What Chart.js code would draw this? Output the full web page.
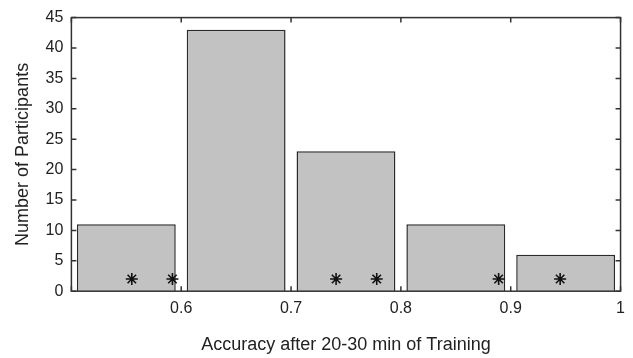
<!DOCTYPE html>
<html>
<head>
<meta charset="utf-8">
<script src="https://cdn.jsdelivr.net/npm/chart.js@4"></script>
<style>
  html, body { margin: 0; padding: 0; background: #fff; }
  #wrap { width: 633px; height: 358px; }
</style>
</head>
<body>
<div id="wrap"><canvas id="histChart"></canvas></div>
<script>
// histogram bins (centre of each 0.1-wide accuracy bin) and counts
const binCenters = [0.55, 0.65, 0.75, 0.85, 0.95];
const participantCounts = [11, 43, 23, 11, 6];

// individual participants marked with an asterisk
const starAccuracy = [0.555, 0.592, 0.741, 0.778, 0.889, 0.945];
const starLevel = [2, 2, 2, 2, 2, 2];

const xTickValues = [0.5, 0.6, 0.7, 0.8, 0.9, 1];
const yTickValues = [0, 5, 10, 15, 20, 25, 30, 35, 40, 45];

const fontFamily = '"Liberation Sans", Arial, Helvetica, sans-serif';

// frame around the plot area plus inward tick marks on all four sides
const frameTicks = {
  id: 'frameTicks',
  afterDraw(chart) {
    const { ctx, chartArea: a, scales } = chart;
    const len = 5;
    ctx.save();
    ctx.strokeStyle = '#333';
    ctx.lineWidth = 1.5;
    ctx.strokeRect(a.left, a.top, a.right - a.left, a.bottom - a.top);
    ctx.beginPath();
    xTickValues.forEach(v => {
      const px = scales.x.getPixelForValue(v);
      ctx.moveTo(px, a.bottom); ctx.lineTo(px, a.bottom - len);
      ctx.moveTo(px, a.top); ctx.lineTo(px, a.top + len);
    });
    yTickValues.forEach(v => {
      const py = scales.y.getPixelForValue(v);
      ctx.moveTo(a.left, py); ctx.lineTo(a.left + len, py);
      ctx.moveTo(a.right, py); ctx.lineTo(a.right - len, py);
    });
    ctx.stroke();
    ctx.restore();
  }
};

new Chart(document.getElementById('histChart'), {
  type: 'bar',
  data: {
    datasets: [
      {
        type: 'scatter',
        data: starAccuracy.map((x, i) => ({ x: x, y: starLevel[i] })),
        pointStyle: 'star',
        pointRadius: 6,
        borderColor: '#111',
        borderWidth: 1.6,
        backgroundColor: '#111',
        order: 0
      },
      {
        data: binCenters.map((x, i) => ({ x: x, y: participantCounts[i] })),
        backgroundColor: '#c2c2c2',
        borderColor: '#2a2a2a',
        borderWidth: 1.5,
        categoryPercentage: 1,
        barPercentage: 0.9,
        order: 1
      }
    ]
  },
  options: {
    responsive: true,
    maintainAspectRatio: false,
    animation: false,
    layout: { autoPadding: false, padding: { left: 12, right: 10, top: 14, bottom: 2 } },
    plugins: {
      legend: { display: false },
      tooltip: { enabled: false }
    },
    scales: {
      x: {
        type: 'linear',
        min: 0.5,
        max: 1,
        offset: false,
        afterBuildTicks: scale => { scale.ticks = xTickValues.map(v => ({ value: v })); },
        ticks: {
          color: '#222',
          font: { family: fontFamily, size: 16 },
          padding: 8,
          maxRotation: 0,
          callback: v => (v === 0.5 ? '' : String(+v.toFixed(1)))
        },
        grid: { display: false, drawTicks: false },
        border: { display: false },
        title: {
          display: true,
          text: 'Accuracy after 20-30 min of Training',
          color: '#222',
          font: { family: fontFamily, size: 18 },
          padding: { top: 8, bottom: 0 }
        }
      },
      y: {
        min: 0,
        max: 45,
        afterBuildTicks: scale => { scale.ticks = yTickValues.map(v => ({ value: v })); },
        ticks: {
          color: '#222',
          font: { family: fontFamily, size: 16 },
          padding: 8
        },
        grid: { display: false, drawTicks: false },
        border: { display: false },
        title: {
          display: true,
          text: 'Number of Participants',
          color: '#222',
          font: { family: fontFamily, size: 18 },
          padding: { top: 0, bottom: 4 }
        }
      }
    }
  },
  plugins: [frameTicks]
});
</script>
</body>
</html>
